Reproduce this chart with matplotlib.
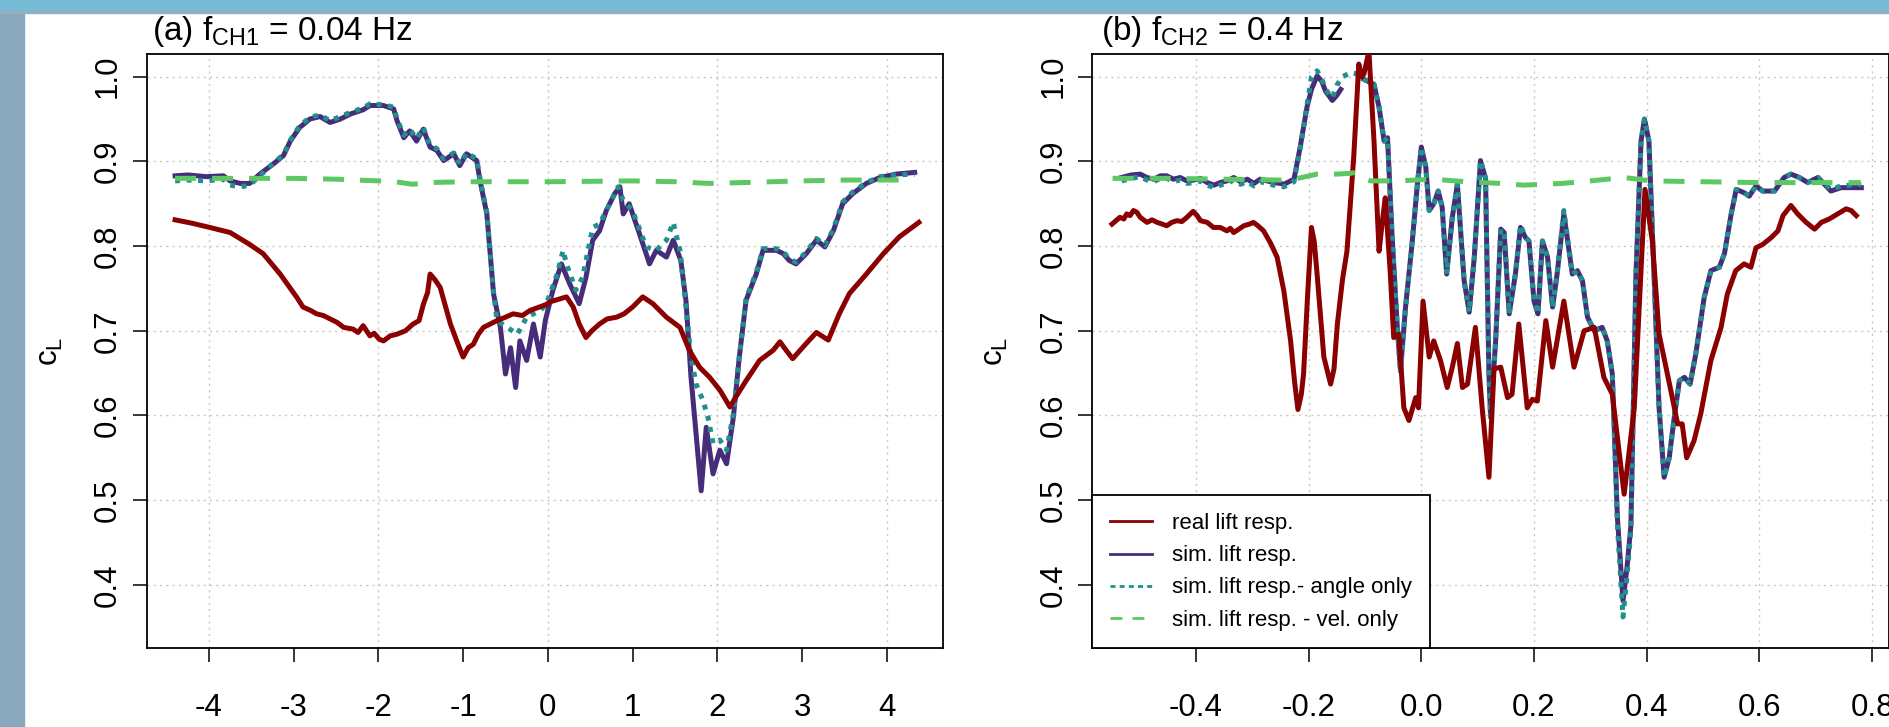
import numpy as np
import matplotlib
matplotlib.use("Agg")
import matplotlib.pyplot as plt
from matplotlib.lines import Line2D
from matplotlib.patches import Rectangle

plt.rcParams['font.family'] = ['Liberation Sans', 'DejaVu Sans']
plt.rcParams['mathtext.fontset'] = 'custom'
plt.rcParams['mathtext.rm'] = 'Liberation Sans'
plt.rcParams['mathtext.it'] = 'Liberation Sans:italic'

# colours
c_real = "#8B0000"
c_sim = "#472c7a"
c_angle = "#21908C"
c_vel = "#5DC863"

# ---------------- panel (a): f_CH1 = 0.04 Hz ----------------
real_a_x = [-4.40, -4.20, -3.99, -3.75, -3.52, -3.36, -3.16, -2.96, -2.89, -2.80, -2.73, -2.65,
            -2.57, -2.49, -2.41, -2.30, -2.24, -2.18, -2.10, -2.05, -1.99, -1.94, -1.86, -1.78,
            -1.68, -1.59, -1.52, -1.47, -1.42, -1.39, -1.33, -1.27, -1.15, -1.06, -1.00, -0.94,
            -0.88, -0.82, -0.76, -0.68, -0.60, -0.50, -0.41, -0.30, -0.21, -0.10, -0.02, 0.02,
            0.12, 0.22, 0.30, 0.37, 0.45, 0.52, 0.61, 0.70, 0.81, 0.90, 1.00, 1.06, 1.12, 1.18,
            1.24, 1.32, 1.40, 1.48, 1.56, 1.67, 1.79, 1.91, 2.03, 2.15, 2.22, 2.34, 2.50, 2.66,
            2.74, 2.82, 2.89, 3.05, 3.17, 3.31, 3.44, 3.56, 3.76, 3.96, 4.15, 4.38]
real_a_y = [0.831, 0.827, 0.822, 0.816, 0.802, 0.791, 0.767, 0.739, 0.728, 0.724, 0.720, 0.718,
            0.714, 0.710, 0.704, 0.702, 0.698, 0.706, 0.694, 0.697, 0.690, 0.688, 0.694, 0.696,
            0.700, 0.708, 0.712, 0.731, 0.745, 0.767, 0.760, 0.751, 0.708, 0.684, 0.669, 0.680,
            0.684, 0.696, 0.704, 0.708, 0.712, 0.716, 0.720, 0.718, 0.724, 0.728, 0.731, 0.734,
            0.737, 0.740, 0.728, 0.708, 0.692, 0.700, 0.708, 0.714, 0.716, 0.720, 0.728, 0.734,
            0.740, 0.736, 0.732, 0.724, 0.716, 0.710, 0.704, 0.677, 0.657, 0.645, 0.630, 0.610,
            0.622, 0.641, 0.665, 0.677, 0.687, 0.676, 0.667, 0.685, 0.698, 0.689, 0.720, 0.744,
            0.767, 0.791, 0.811, 0.828]

sim_a_x = [-4.40, -4.25, -4.03, -3.83, -3.75, -3.63, -3.52, -3.40, -3.24, -3.12, -3.04, -2.93,
           -2.81, -2.69, -2.57, -2.45, -2.33, -2.18, -2.10, -1.94, -1.82, -1.78, -1.70, -1.63,
           -1.55, -1.47, -1.39, -1.31, -1.23, -1.11, -1.04, -0.96, -0.84, -0.80, -0.72, -0.64,
           -0.56, -0.50, -0.44, -0.38, -0.33, -0.25, -0.17, -0.09, -0.03, 0.06, 0.16, 0.26,
           0.37, 0.45, 0.53, 0.61, 0.69, 0.79, 0.85, 0.89, 0.96, 1.08, 1.20, 1.28, 1.40, 1.48,
           1.57, 1.63, 1.69, 1.75, 1.81, 1.87, 1.95, 2.03, 2.11, 2.19, 2.26, 2.34, 2.46, 2.54,
           2.70, 2.78, 2.85, 2.93, 3.05, 3.17, 3.27, 3.37, 3.48, 3.60, 3.76, 3.92, 4.11, 4.33]
sim_a_y = [0.883, 0.884, 0.882, 0.883, 0.877, 0.874, 0.874, 0.885, 0.897, 0.907, 0.924, 0.940,
           0.950, 0.953, 0.946, 0.950, 0.956, 0.961, 0.966, 0.966, 0.962, 0.948, 0.928, 0.936,
           0.924, 0.938, 0.917, 0.913, 0.901, 0.909, 0.895, 0.909, 0.901, 0.877, 0.838, 0.743,
           0.704, 0.649, 0.680, 0.633, 0.688, 0.665, 0.708, 0.669, 0.712, 0.748, 0.779, 0.755,
           0.732, 0.763, 0.807, 0.818, 0.842, 0.862, 0.870, 0.838, 0.850, 0.815, 0.779, 0.795,
           0.787, 0.807, 0.783, 0.736, 0.645, 0.578, 0.511, 0.586, 0.531, 0.559, 0.543, 0.598,
           0.669, 0.736, 0.767, 0.795, 0.795, 0.791, 0.783, 0.779, 0.791, 0.807, 0.799, 0.818,
           0.850, 0.862, 0.874, 0.881, 0.885, 0.887]

angle_a_x = [-4.40, -4.25, -4.03, -3.83, -3.75, -3.63, -3.52, -3.40, -3.24, -3.12, -3.04, -2.93,
             -2.81, -2.69, -2.57, -2.45, -2.33, -2.18, -2.10, -1.94, -1.82, -1.78, -1.70, -1.63,
             -1.55, -1.47, -1.39, -1.31, -1.23, -1.11, -1.04, -0.96, -0.84, -0.80, -0.72, -0.64,
             -0.60, -0.48, -0.36, -0.25, -0.09, -0.02, 0.11, 0.18, 0.22, 0.33, 0.41, 0.53, 0.61,
             0.73, 0.83, 0.89, 1.00, 1.16, 1.28, 1.40, 1.48, 1.56, 1.63, 1.69, 1.75, 1.83, 1.89,
             1.95, 2.03, 2.11, 2.19, 2.26, 2.34, 2.46, 2.54, 2.70, 2.78, 2.85, 2.93, 3.05, 3.17,
             3.27, 3.37, 3.48, 3.60, 3.76, 3.92, 4.11, 4.33]
angle_a_y = [0.877, 0.878, 0.877, 0.879, 0.872, 0.870, 0.872, 0.883, 0.898, 0.908, 0.925, 0.942,
             0.952, 0.955, 0.948, 0.953, 0.958, 0.963, 0.968, 0.967, 0.964, 0.950, 0.931, 0.938,
             0.927, 0.940, 0.919, 0.915, 0.903, 0.910, 0.897, 0.910, 0.903, 0.879, 0.840, 0.745,
             0.712, 0.704, 0.696, 0.716, 0.724, 0.731, 0.767, 0.795, 0.779, 0.748, 0.763, 0.822,
             0.826, 0.850, 0.870, 0.854, 0.842, 0.799, 0.795, 0.807, 0.828, 0.795, 0.728, 0.669,
             0.637, 0.618, 0.598, 0.567, 0.571, 0.559, 0.602, 0.669, 0.738, 0.769, 0.797, 0.797,
             0.793, 0.785, 0.781, 0.793, 0.809, 0.801, 0.820, 0.852, 0.864, 0.875, 0.882, 0.884,
             0.885]

vel_a_x = [-4.40, -3.50, -3.00, -2.50, -2.00, -1.80, -1.60, -1.40, -1.00, 0.00, 1.00, 1.50,
           1.90, 2.30, 3.00, 3.50, 4.00, 4.33]
vel_a_y = [0.880, 0.880, 0.880, 0.879, 0.877, 0.876, 0.873, 0.875, 0.876, 0.876, 0.877, 0.876,
           0.874, 0.875, 0.877, 0.878, 0.878, 0.878]

# ---------------- panel (b): f_CH2 = 0.4 Hz ----------------
real_b_x = [-0.549, -0.542, -0.535, -0.528, -0.523, -0.517, -0.511, -0.505, -0.499, -0.487,
            -0.478, -0.469, -0.460, -0.452, -0.443, -0.434, -0.425, -0.416, -0.405, -0.398,
            -0.392, -0.380, -0.369, -0.357, -0.345, -0.339, -0.333, -0.324, -0.315, -0.305,
            -0.298, -0.290, -0.280, -0.268, -0.256, -0.244, -0.232, -0.225, -0.219, -0.213,
            -0.209, -0.202, -0.195, -0.190, -0.185, -0.173, -0.161, -0.155, -0.149, -0.140,
            -0.132, -0.120, -0.111, -0.106, -0.102, -0.093, -0.084, -0.075, -0.069, -0.064,
            -0.055, -0.049, -0.040, -0.031, -0.022, -0.010, -0.005, 0.003, 0.014, 0.022,
            0.034, 0.046, 0.055, 0.064, 0.073, 0.082, 0.096, 0.108, 0.120, 0.129, 0.141,
            0.153, 0.161, 0.173, 0.188, 0.197, 0.206, 0.221, 0.233, 0.253, 0.271, 0.289,
            0.307, 0.324, 0.339, 0.360, 0.378, 0.397, 0.410, 0.422, 0.443, 0.455, 0.463,
            0.471, 0.484, 0.496, 0.514, 0.532, 0.543, 0.558, 0.573, 0.585, 0.594, 0.606,
            0.621, 0.633, 0.642, 0.656, 0.668, 0.683, 0.698, 0.710, 0.724, 0.739, 0.754,
            0.763, 0.772]
real_b_y = [0.826, 0.830, 0.834, 0.832, 0.838, 0.836, 0.842, 0.840, 0.834, 0.828,
            0.831, 0.828, 0.826, 0.824, 0.828, 0.830, 0.829, 0.834, 0.841, 0.836,
            0.830, 0.828, 0.822, 0.822, 0.818, 0.821, 0.816, 0.820, 0.824, 0.826,
            0.828, 0.824, 0.818, 0.804, 0.787, 0.747, 0.688, 0.640, 0.607, 0.625,
            0.649, 0.740, 0.822, 0.805, 0.767, 0.669, 0.637, 0.655, 0.708, 0.760,
            0.794, 0.905, 1.015, 1.000, 1.003, 1.030, 0.924, 0.794, 0.830, 0.857,
            0.767, 0.692, 0.696, 0.609, 0.594, 0.621, 0.609, 0.735, 0.669, 0.688,
            0.665, 0.633, 0.657, 0.685, 0.633, 0.637, 0.704, 0.609, 0.527, 0.655, 0.657,
            0.621, 0.625, 0.708, 0.609, 0.619, 0.617, 0.712, 0.657, 0.735, 0.657, 0.700,
            0.704, 0.645, 0.625, 0.507, 0.609, 0.867, 0.806, 0.696, 0.629, 0.590, 0.590,
            0.550, 0.570, 0.602, 0.665, 0.704, 0.743, 0.771, 0.779, 0.775, 0.798, 0.802,
            0.810, 0.818, 0.836, 0.848, 0.838, 0.828, 0.820, 0.828, 0.832, 0.838, 0.844,
            0.842, 0.836]

sim_b_x = [-0.532, -0.515, -0.499, -0.487, -0.475, -0.463, -0.452, -0.440, -0.428, -0.416,
           -0.404, -0.392, -0.380, -0.368, -0.357, -0.345, -0.333, -0.321, -0.309, -0.297,
           -0.286, -0.274, -0.262, -0.250, -0.244, -0.235, -0.226, -0.215, -0.203, -0.195,
           -0.185, -0.177, -0.170, -0.158, -0.150, -0.143, -0.130, -0.102, -0.084, -0.075,
           -0.066, -0.060, -0.052, -0.043, -0.037, -0.028, -0.016, -0.007, 0.000, 0.008,
           0.014, 0.022, 0.030, 0.037, 0.045, 0.055, 0.064, 0.076, 0.085, 0.094, 0.105,
           0.114, 0.120, 0.123, 0.132, 0.141, 0.147, 0.156, 0.167, 0.176, 0.185, 0.191,
           0.200, 0.207, 0.215, 0.224, 0.233, 0.241, 0.253, 0.268, 0.277, 0.286, 0.295,
           0.307, 0.321, 0.330, 0.339, 0.348, 0.358, 0.365, 0.372, 0.381, 0.390, 0.396,
           0.404, 0.413, 0.422, 0.431, 0.440, 0.449, 0.458, 0.467, 0.477, 0.487, 0.502,
           0.514, 0.529, 0.538, 0.550, 0.559, 0.573, 0.582, 0.594, 0.606, 0.627, 0.644,
           0.656, 0.671, 0.686, 0.704, 0.727, 0.745, 0.781]
sim_b_y = [0.881, 0.884, 0.885, 0.881, 0.879, 0.883, 0.883, 0.879, 0.881, 0.877,
           0.878, 0.880, 0.875, 0.872, 0.875, 0.877, 0.881, 0.876, 0.879, 0.874,
           0.879, 0.877, 0.875, 0.874, 0.873, 0.876, 0.879, 0.917, 0.964, 0.985,
           1.001, 0.995, 0.983, 0.972, 0.978, 0.985, np.nan, 0.997, 0.991, 0.964,
           0.924, 0.928, 0.814, 0.708, 0.653, 0.728, 0.806, 0.873, 0.917, 0.893,
           0.842, 0.850, 0.865, 0.846, 0.767, 0.834, 0.873, 0.759, 0.722, 0.787, 0.901,
           0.880, 0.649, 0.598, 0.689, 0.820, 0.816, 0.720, 0.767, 0.822, 0.810, 0.806,
           0.735, 0.720, 0.806, 0.787, 0.728, 0.767, 0.838, 0.767, 0.771, 0.759, 0.716,
           0.700, 0.704, 0.688, 0.649, 0.480, 0.381, 0.420, 0.470, 0.767, 0.924, 0.950,
           0.924, 0.767, 0.609, 0.527, 0.550, 0.598, 0.641, 0.645, 0.637, 0.672, 0.739,
           0.771, 0.775, 0.791, 0.838, 0.867, 0.863, 0.859, 0.871, 0.865, 0.865, 0.881,
           0.885, 0.881, 0.875, 0.881, 0.865, 0.869, 0.869]

angle_b_x = [-0.532, -0.515, -0.499, -0.487, -0.475, -0.463, -0.452, -0.440, -0.428, -0.416,
             -0.404, -0.392, -0.380, -0.368, -0.357, -0.345, -0.333, -0.321, -0.309, -0.297,
             -0.286, -0.274, -0.262, -0.250, -0.244, -0.235, -0.226, -0.215, -0.203, -0.195,
             -0.185, -0.177, -0.170, -0.158, -0.150, -0.140, -0.125, -0.112, -0.102, -0.084,
             -0.075, -0.066, -0.060, -0.052, -0.043, -0.037, -0.028, -0.016, -0.007, 0.000,
             0.008, 0.014, 0.022, 0.030, 0.037, 0.045, 0.055, 0.064, 0.076, 0.085, 0.094,
             0.105, 0.114, 0.120, 0.123, 0.132, 0.141, 0.147, 0.156, 0.167, 0.176, 0.185,
             0.191, 0.200, 0.207, 0.215, 0.224, 0.233, 0.241, 0.253, 0.268, 0.277, 0.286,
             0.295, 0.307, 0.321, 0.330, 0.339, 0.348, 0.358, 0.365, 0.372, 0.381, 0.390,
             0.396, 0.404, 0.413, 0.422, 0.431, 0.440, 0.449, 0.458, 0.467, 0.477, 0.487,
             0.502, 0.514, 0.529, 0.538, 0.550, 0.559, 0.573, 0.582, 0.594, 0.606, 0.627,
             0.644, 0.656, 0.671, 0.686, 0.704, 0.727, 0.745, 0.781]
angle_b_y = [0.877, 0.880, 0.882, 0.878, 0.876, 0.880, 0.880, 0.876, 0.878, 0.874,
             0.875, 0.877, 0.872, 0.869, 0.872, 0.874, 0.878, 0.873, 0.876, 0.871,
             0.876, 0.874, 0.872, 0.871, 0.870, 0.873, 0.876, 0.915, 0.966, 1.000,
             1.007, 0.998, 0.985, 0.975, 0.990, 1.000, 1.005, 1.003, 0.997, 0.991,
             0.964, 0.924, 0.928, 0.814, 0.708, 0.650, 0.728, 0.806, 0.873, 0.917,
             0.893, 0.842, 0.850, 0.865, 0.846, 0.767, 0.834, 0.873, 0.759, 0.722, 0.787,
             0.901, 0.880, 0.649, 0.598, 0.689, 0.820, 0.816, 0.720, 0.767, 0.825, 0.810,
             0.806, 0.735, 0.720, 0.806, 0.787, 0.728, 0.767, 0.842, 0.767, 0.771, 0.759,
             0.716, 0.700, 0.704, 0.688, 0.649, 0.470, 0.362, 0.410, 0.465, 0.767, 0.924,
             0.950, 0.924, 0.767, 0.609, 0.527, 0.550, 0.598, 0.641, 0.645, 0.637, 0.672,
             0.739, 0.771, 0.775, 0.791, 0.838, 0.867, 0.863, 0.859, 0.871, 0.865, 0.865,
             0.881, 0.885, 0.881, 0.875, 0.881, 0.867, 0.871, 0.873]

vel_b_x = [-0.548, -0.450, -0.350, -0.250, -0.226, -0.185, -0.150, -0.125, -0.117, -0.105,
           -0.090, -0.040, 0.020, 0.080, 0.140, 0.182, 0.250, 0.300, 0.360, 0.407, 0.500,
           0.600, 0.780]
vel_b_y = [0.880, 0.880, 0.879, 0.878, 0.879, 0.885, 0.885, 0.886, 0.887, 0.880,
           0.877, 0.877, 0.879, 0.876, 0.874, 0.872, 0.874, 0.877, 0.881, 0.877, 0.876,
           0.875, 0.875]

yticks = [0.4, 0.5, 0.6, 0.7, 0.8, 0.9, 1.0]
xticks_a = [-4, -3, -2, -1, 0, 1, 2, 3, 4]
xgrid_a = [-4, -2, 0, 2, 4]
xticks_b = [-0.4, -0.2, 0.0, 0.2, 0.4, 0.6, 0.8]
legend_labels = ["real lift resp.", "sim. lift resp.", "sim. lift resp.- angle only",
                 "sim. lift resp. - vel. only"]

W, H = 1890, 727
fig = plt.figure(figsize=(W / 100, H / 100), dpi=100)
fig.patch.set_facecolor("white")

# slide-like frame bands (top and left)
fig.add_artist(Rectangle((0, 0), 24 / W, 1, transform=fig.transFigure, color="#8aa9bf", zorder=0))
fig.add_artist(Rectangle((0, 1 - 13 / H), 1, 13 / H, transform=fig.transFigure, color="#8fb1c5", zorder=0))
fig.add_artist(Rectangle((0, 1 - 9 / H), 1, 9 / H, transform=fig.transFigure, color="#77bcd6", zorder=0))


def px_axes(l, t, r, b):
    return fig.add_axes([l / W, 1 - b / H, (r - l) / W, (b - t) / H])


ax1 = px_axes(146.7, 54.3, 943.3, 648.3)
ax2 = px_axes(1092.3, 54.3, 1889.5, 648.3)

lw = 3.6
dot_style = (0, (1.0, 1.3))
dash_style = (0, (4.2, 3.2))


def draw(ax, rx, ry, sx, sy, ax_, ay_, vx, vy):
    ax.plot(sx, sy, color=c_sim, lw=lw, solid_joinstyle="round", zorder=3)
    ax.plot(ax_, ay_, color=c_angle, lw=lw, ls=dot_style, zorder=4)
    ax.plot(rx, ry, color=c_real, lw=lw, solid_joinstyle="round", zorder=5)
    ax.plot(vx, vy, color=c_vel, lw=lw, ls=dash_style, zorder=6)


draw(ax1, real_a_x, real_a_y, sim_a_x, sim_a_y, angle_a_x, angle_a_y, vel_a_x, vel_a_y)
draw(ax2, real_b_x, real_b_y, sim_b_x, sim_b_y, angle_b_x, angle_b_y, vel_b_x, vel_b_y)

ax1.set_xlim(-4.735, 4.668)
ax2.set_xlim(-0.584, 0.831)

for ax, xt, xg, fmt in [(ax1, xticks_a, xgrid_a, "{:d}"), (ax2, xticks_b, xticks_b, "{:.1f}")]:
    ax.set_ylim(0.325, 1.0265)
    for g in xg:
        ax.axvline(g, color="#c8c8c8", lw=1.0, ls=(0, (1.5, 3)), zorder=1)
    for g in yticks:
        ax.axhline(g, color="#c8c8c8", lw=1.0, ls=(0, (1.5, 3)), zorder=1)
    ax.set_xticks(xt)
    ax.set_xticklabels([fmt.format(v) for v in xt])
    ax.set_yticks(yticks)
    ax.set_yticklabels(["{:.1f}".format(v) for v in yticks])
    ax.tick_params(axis="both", direction="out", length=10, width=1.1, labelsize=22.5, colors="black")
    ax.tick_params(axis="x", pad=22)
    ax.tick_params(axis="y", pad=7, labelrotation=90)
    for lbl in ax.get_yticklabels():
        lbl.set_va("center")
    for sp in ax.spines.values():
        sp.set_linewidth(1.3)
        sp.set_color("black")
    ax.set_ylabel(r"c$_{\mathrm{L}}$", fontsize=22.5)
    ax.yaxis.set_label_coords(-0.103, 0.5)

fig.text(151.5 / W, 1 - 40 / H, r"(a) f$_{\mathrm{CH1}}$ = 0.04 Hz", fontsize=24, va="baseline", ha="left")
fig.text(1101.5 / W, 1 - 40 / H, r"(b) f$_{\mathrm{CH2}}$ = 0.4 Hz", fontsize=24, va="baseline", ha="left")

handles = [
    Line2D([], [], color=c_real, lw=2.0),
    Line2D([], [], color=c_sim, lw=2.0),
    Line2D([], [], color=c_angle, lw=2.0, ls=(0, (1.8, 1.5))),
    Line2D([], [], color=c_vel, lw=2.0, ls=(0, (4.3, 3.6))),
]
leg = ax2.legend(handles, legend_labels, loc="lower left", bbox_to_anchor=(0, 0),
                 borderaxespad=0, fontsize=16, frameon=True, fancybox=False,
                 edgecolor="black", framealpha=1, handlelength=1.9, handletextpad=0.9,
                 borderpad=0.8, labelspacing=0.5)
leg.get_frame().set_linewidth(1.3)
leg.set_zorder(10)

fig.savefig("out.png", dpi=100)
